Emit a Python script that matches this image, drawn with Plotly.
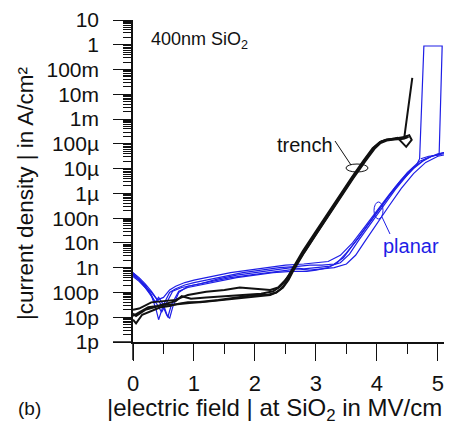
import plotly.graph_objects as go

# ---------------- data ----------------
# electric field in MV/cm, current density given as log10(J / (A/cm^2))
trench1_E = [0, 0.05, 0.15, 0.3, 0.45, 0.6, 0.75, 0.9, 1.1, 1.3, 1.5, 1.7, 1.9, 2.1, 2.25, 2.35, 2.45, 2.55, 2.62,
             2.8, 3.0, 3.2, 3.4, 3.6, 3.8, 3.95, 4.05, 4.15, 4.25, 4.34, 4.48, 4.57, 4.53, 4.45, 4.58]
trench1_logJ = [-11.1, -11.25, -10.9, -10.75, -10.6, -10.55, -10.45, -10.4, -10.4, -10.35, -10.3, -10.25, -10.2, -10.15,
                -10.1, -10.0, -9.8, -9.45, -9.08, -8.33, -7.58, -6.83, -6.08, -5.35, -4.65, -4.15, -3.93, -3.83, -3.8,
                -3.76, -4.12, -3.84, -3.65, -3.72, -1.34]

trench2_E = [0, 0.1, 0.25, 0.4, 0.55, 0.7, 0.8, 0.95, 1.2, 1.5, 1.8, 2.1, 2.3, 2.42, 2.52, 2.6, 2.78, 2.98, 3.18,
             3.38, 3.58, 3.78, 3.93, 4.04, 4.15, 4.3, 4.45, 4.52]
trench2_logJ = [-10.95, -10.8, -10.6, -10.55, -10.45, -10.35, -10.15, -10.25, -10.2, -10.15, -10.1, -10.05, -9.95,
                -9.75, -9.45, -9.1, -8.35, -7.6, -6.85, -6.1, -5.38, -4.68, -4.18, -3.95, -3.85, -3.8, -3.78, -3.72]

trench3_E = [0, 0.1, 0.3, 0.5, 0.7, 0.9, 1.2, 1.5, 1.75, 2.0, 2.25, 2.38, 2.48, 2.56, 2.64, 2.82, 3.02, 3.22, 3.42,
             3.62, 3.82, 3.97, 4.07, 4.17, 4.3, 4.42, 4.5]
trench3_logJ = [-10.7, -10.65, -10.4, -10.35, -10.3, -10.1, -9.97, -9.9, -9.8, -9.85, -9.9, -9.8, -9.55, -9.3, -9.0,
                -8.28, -7.53, -6.78, -6.04, -5.32, -4.62, -4.12, -3.9, -3.82, -3.78, -3.72, -3.7]

trench4_E = [0, 0.05, 0.2, 0.35, 0.5, 0.65, 0.85, 1.1, 1.4, 1.7, 2.0, 2.2, 2.35, 2.46, 2.55, 2.63, 2.81, 3.01, 3.21,
             3.41, 3.61, 3.81, 3.96, 4.06, 4.16, 4.28, 4.4, 4.48]
trench4_logJ = [-10.85, -10.95, -10.7, -10.6, -10.5, -10.5, -10.45, -10.4, -10.3, -10.2, -10.1, -10.1, -10.0, -9.8,
                -9.5, -9.12, -8.38, -7.63, -6.88, -6.13, -5.4, -4.7, -4.2, -3.97, -3.87, -3.82, -3.8, -3.75]

planar1_E = [0, 0.1, 0.2, 0.3, 0.38, 0.42, 0.5, 0.6, 0.7, 0.85, 1.0, 1.2, 1.5, 1.8, 2.1, 2.4, 2.7, 2.9, 3.1, 3.3,
             3.45, 3.6, 3.8, 4.0, 4.2, 4.4, 4.6, 4.75, 4.9, 5.1]
planar1_logJ = [-9.2, -9.45, -9.7, -10.1, -10.7, -11.1, -10.5, -10.0, -9.85, -9.7, -9.6, -9.5, -9.35, -9.2, -9.1,
                -9.0, -8.95, -8.9, -8.9, -8.85, -8.6, -8.1, -7.45, -6.75, -6.1, -5.5, -5.0, -4.7, -4.5, -4.35]

planar2_E = [0, 0.1, 0.2, 0.3, 0.4, 0.5, 0.55, 0.6, 0.65, 0.75, 0.9, 1.1, 1.4, 1.7, 2.0, 2.3, 2.6, 2.8, 3.0, 3.2,
             3.4, 3.55, 3.7, 3.9, 4.1, 4.3, 4.5, 4.65, 4.7, 4.77, 5.07, 5.02, 4.85, 4.72]
planar2_logJ = [-9.3, -9.5, -9.75, -10.0, -10.3, -10.6, -10.9, -11.05, -10.6, -10.0, -9.75, -9.65, -9.45, -9.3, -9.2,
                -9.1, -9.0, -9.05, -9.0, -8.95, -8.8, -8.45, -7.9, -7.2, -6.5, -5.85, -5.25, -4.85, -4.6, -0.05,
                -0.05, -4.45, -4.5, -4.6]

planar3_E = [0, 0.1, 0.2, 0.3, 0.4, 0.47, 0.55, 0.65, 0.8, 1.0, 1.3, 1.6, 1.9, 2.2, 2.5, 2.7, 2.9, 3.1, 3.3, 3.5,
             3.65, 3.8, 4.0, 4.2, 4.4, 4.6, 4.8, 5.0, 5.1]
planar3_logJ = [-9.25, -9.5, -9.8, -10.15, -10.5, -10.8, -10.4, -9.95, -9.8, -9.7, -9.55, -9.4, -9.3, -9.2, -9.1,
                -9.05, -9.1, -9.05, -9.0, -8.85, -8.5, -7.95, -7.2, -6.5, -5.8, -5.2, -4.75, -4.5, -4.45]

planar4_E = [0, 0.1, 0.2, 0.3, 0.36, 0.42, 0.5, 0.57, 0.63, 0.75, 0.9, 1.1, 1.4, 1.7, 2.0, 2.3, 2.6, 2.85, 3.0, 3.2,
             3.35, 3.5, 3.7, 3.9, 4.1, 4.3, 4.5, 4.7, 4.9, 5.1]
planar4_logJ = [-9.35, -9.55, -9.8, -10.1, -10.4, -10.2, -10.5, -11.0, -10.5, -9.95, -9.8, -9.7, -9.55, -9.4, -9.3,
                -9.2, -9.15, -9.15, -9.1, -9.0, -8.8, -8.4, -7.8, -7.1, -6.4, -5.75, -5.15, -4.7, -4.5, -4.4]

planar5_E = [0, 0.1, 0.2, 0.3, 0.4, 0.5, 0.6, 0.7, 0.85, 1.0, 1.3, 1.6, 1.9, 2.2, 2.5, 2.8, 3.0, 3.2, 3.4, 3.6,
             3.8, 4.0, 4.2, 4.4, 4.6, 4.8, 5.0, 5.1]
planar5_logJ = [-9.2, -9.4, -9.65, -9.95, -10.3, -10.2, -9.9, -9.75, -9.6, -9.5, -9.35, -9.2, -9.1, -9.0, -8.9,
                -8.85, -8.8, -8.75, -8.5, -8.0, -7.35, -6.7, -6.05, -5.45, -4.95, -4.6, -4.4, -4.35]

y_tick_exponents = list(range(-12, 2))
y_tick_labels = ["1p", "10p", "100p", "1n", "10n", "100n", "1µ", "10µ", "100µ", "1m", "10m", "100m", "1", "10"]
x_tick_values = [0, 1, 2, 3, 4, 5]
x_tick_labels = ["0", "1", "2", "3", "4", "5"]

# ---------------- figure ----------------
W, H = 450, 426
L, R, T, B = 133, 6, 20, 84
PW, PH = W - L - R, H - T - B
FONT = "Arial, Liberation Sans, sans-serif"
BLUE = "#1e1ee6"
BLACK = "#111111"


def pxx(px):
    return (px - L) / PW


def pxy(py):
    return (H - B - py) / PH


fig = go.Figure()

trench = [(trench1_E, trench1_logJ), (trench2_E, trench2_logJ), (trench3_E, trench3_logJ), (trench4_E, trench4_logJ)]
planar = [(planar1_E, planar1_logJ), (planar2_E, planar2_logJ), (planar3_E, planar3_logJ),
          (planar4_E, planar4_logJ), (planar5_E, planar5_logJ)]

for e, lj in planar:
    fig.add_trace(go.Scatter(x=e, y=[10 ** v for v in lj], mode="lines",
                             line=dict(color=BLUE, width=1.2), showlegend=False, hoverinfo="skip"))
for e, lj in trench:
    fig.add_trace(go.Scatter(x=e, y=[10 ** v for v in lj], mode="lines",
                             line=dict(color=BLACK, width=2.0), showlegend=False, hoverinfo="skip"))

minor_y = [m * 10.0 ** k for k in range(-12, 1) for m in range(2, 10)]

fig.update_layout(
    width=W, height=H,
    margin=dict(l=L, r=R, t=T, b=B, pad=0),
    paper_bgcolor="white", plot_bgcolor="white",
    font=dict(family=FONT, size=20, color=BLACK),
    xaxis=dict(range=[0, 5.1], tickmode="array", tickvals=x_tick_values, ticktext=x_tick_labels,
               ticks="outside", ticklen=17, tickwidth=1.3, tickcolor=BLACK,
               showline=True, linecolor=BLACK, linewidth=1.5, showgrid=False, zeroline=False,
               ticklabelstandoff=4, tickfont=dict(size=22),
               minor=dict(tickmode="array", tickvals=[0.5, 1.5, 2.5, 3.5, 4.5], ticks="outside",
                          ticklen=10, tickwidth=1.3, tickcolor=BLACK)),
    yaxis=dict(type="log", range=[-12, 1], tickmode="array",
               tickvals=[10.0 ** k for k in y_tick_exponents], ticktext=y_tick_labels,
               ticks="outside", ticklen=18, tickwidth=1.3, tickcolor=BLACK,
               showline=True, linecolor=BLACK, linewidth=1.5, showgrid=False, zeroline=False,
               ticklabelstandoff=10, tickfont=dict(size=21),
               minor=dict(tickmode="array", tickvals=minor_y, ticks="outside", ticklen=8,
                          tickwidth=1, tickcolor=BLACK)),
)

shapes = [
    # axis line extensions
    dict(type="line", xref="paper", yref="paper", x0=0, x1=0, y0=0, y1=pxy(360),
         line=dict(color=BLACK, width=1.5)),
    dict(type="line", xref="paper", yref="paper", x0=pxx(113), x1=0, y0=0, y1=0,
         line=dict(color=BLACK, width=1.5)),
    # trench marker
    dict(type="circle", xref="paper", yref="paper", x0=pxx(346), x1=pxx(368), y0=pxy(172), y1=pxy(164),
         line=dict(color=BLACK, width=1)),
    dict(type="line", xref="paper", yref="paper", x0=pxx(335), x1=pxx(351), y0=pxy(141), y1=pxy(165),
         line=dict(color=BLACK, width=1)),
    # planar marker
    dict(type="circle", xref="paper", yref="paper", x0=pxx(374), x1=pxx(383), y0=pxy(219), y1=pxy(202),
         line=dict(color=BLUE, width=1)),
    dict(type="line", xref="paper", yref="paper", x0=pxx(382), x1=pxx(390), y0=pxy(217), y1=pxy(234),
         line=dict(color=BLUE, width=1)),
]
fig.update_layout(shapes=shapes)

annotations = [
    dict(text="|current density | in A/cm²", xref="paper", yref="paper", x=pxx(25), y=pxy(193),
         textangle=-90, showarrow=False, font=dict(size=22.5, family=FONT, color=BLACK),
         xanchor="center", yanchor="middle"),
    dict(text="|electric field | at SiO<sub>2</sub> in MV/cm", xref="paper", yref="paper",
         x=pxx(274), y=pxy(409), showarrow=False, font=dict(size=24, family=FONT, color=BLACK),
         xanchor="center", yanchor="middle"),
    dict(text="400nm SiO<sub>2</sub>", xref="paper", yref="paper", x=pxx(149), y=pxy(40),
         showarrow=False, font=dict(size=18, family=FONT, color=BLACK), xanchor="left", yanchor="middle"),
    dict(text="trench", xref="paper", yref="paper", x=pxx(305), y=pxy(145),
         showarrow=False, font=dict(size=20, family=FONT, color=BLACK), xanchor="center", yanchor="middle"),
    dict(text="planar", xref="paper", yref="paper", x=pxx(411), y=pxy(246),
         showarrow=False, font=dict(size=20, family=FONT, color=BLUE), xanchor="center", yanchor="middle"),
    dict(text="(b)", xref="paper", yref="paper", x=pxx(29), y=pxy(408),
         showarrow=False, font=dict(size=19, family=FONT, color=BLACK), xanchor="center", yanchor="middle"),
]
fig.update_layout(annotations=annotations)

fig.write_html("out.html", config={"displayModeBar": False},
               post_script="document.body.style.margin='0';document.body.style.padding='0';")
